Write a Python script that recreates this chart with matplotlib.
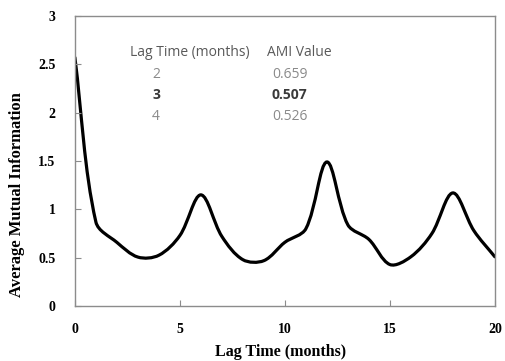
import numpy as np
import matplotlib.pyplot as plt
from matplotlib.path import Path
from matplotlib.patches import PathPatch

# AMI per lag (months)
lag = list(range(0, 21))
ami = [2.57, 0.87, 0.659, 0.507, 0.526, 0.73, 1.15, 0.72, 0.48, 0.47,
       0.66, 0.80, 1.49, 0.84, 0.69, 0.43, 0.51, 0.75, 1.17, 0.78, 0.51]

tbl_lag = ['2', '3', '4']
tbl_ami = ['0.659', '0.507', '0.526']
best_row = 1


def smooth_path(x, y, sx=21.0, sy=96.7):
    # smoothed line: cubic bezier through each point, arm length weighted by
    # the on-screen length of the neighbouring segments (sx, sy = px per unit)
    p = np.column_stack([np.asarray(x, float) * sx, np.asarray(y, float) * sy])
    n = len(p)
    seg = np.hypot(*np.diff(p, axis=0).T)
    out_c = np.zeros_like(p)
    in_c = np.zeros_like(p)
    out_c[0] = p[0] + (p[1] - p[0]) / 3
    in_c[-1] = p[-1] - (p[-1] - p[-2]) / 3
    for i in range(1, n - 1):
        d = p[i + 1] - p[i - 1]
        lp, ln = seg[i - 1], seg[i]
        out_c[i] = p[i] + d * ln / (lp + ln) / 3
        in_c[i] = p[i] - d * lp / (lp + ln) / 3
    verts = [p[0]]
    codes = [Path.MOVETO]
    for i in range(n - 1):
        verts += [out_c[i], in_c[i + 1], p[i + 1]]
        codes += [Path.CURVE4] * 3
    verts = np.array(verts) / [sx, sy]
    return Path(verts, codes)


fig = plt.figure(figsize=(5.06, 3.61), dpi=100)
ax = fig.add_axes([0.148, 0.152, 0.83, 0.804])

ax.add_patch(PathPatch(smooth_path(lag, ami), facecolor='none',
                       edgecolor='black', linewidth=2.3, capstyle='round'))

ax.set_xlim(0, 20)
ax.set_ylim(0, 3)
ax.set_xticks([0, 5, 10, 15, 20])
ax.set_yticks([0, 0.5, 1, 1.5, 2, 2.5, 3])
ax.set_yticklabels(['0', '0.5', '1', '1.5', '2', '2.5', '3'])
for s in ax.spines.values():
    s.set_color('#8c8c8c')
    s.set_linewidth(1.0)
ax.tick_params(direction='in', length=4, width=0.8, color='#8c8c8c',
               labelsize=10)
ax.tick_params(axis='y', pad=14)
ax.tick_params(axis='x', pad=12)
for lbl in ax.get_xticklabels() + ax.get_yticklabels():
    lbl.set_fontfamily('Liberation Serif')
    lbl.set_fontweight('bold')

fig.text(281 / 506, 1 - 352 / 361, 'Lag Time (months)', ha='center', va='center',
         family='Liberation Serif', fontweight='bold', fontsize=11.5)
fig.text(17 / 506, 1 - 195 / 361, 'Average Mutual Information', ha='center',
         va='center', rotation=90, family='Liberation Serif', fontweight='bold',
         fontsize=12)

# lag / AMI table
tfont = dict(family='Open Sans', fontsize=10, va='center', transform=fig.transFigure)
fig.text(130 / 506, 1 - 53 / 361, 'Lag Time (months)', color='#595959', ha='left', **tfont)
fig.text(267 / 506, 1 - 53 / 361, 'AMI Value', color='#595959', ha='left', **tfont)
row_y = [74, 95, 117]
for i, (lg, av) in enumerate(zip(tbl_lag, tbl_ami)):
    bold = i == best_row
    col = '#3a3a3a' if bold else '#8a8a8a'
    w = 'bold' if bold else 'normal'
    fig.text(156 / 506, 1 - row_y[i] / 361, lg, color=col, ha='center',
             fontweight=w, **tfont)
    fig.text(272 / 506, 1 - row_y[i] / 361, av, color=col, ha='left',
             fontweight=w, **tfont)

fig.savefig('out.png', dpi=100)
